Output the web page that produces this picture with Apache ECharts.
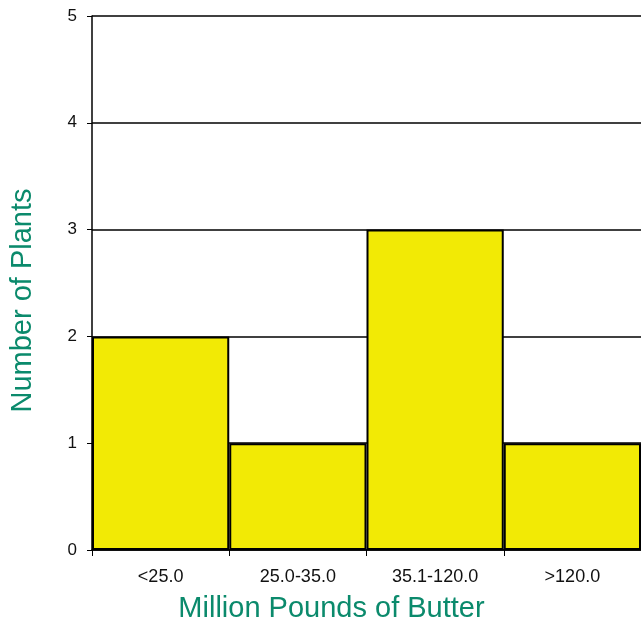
<!DOCTYPE html>
<html><head><meta charset="utf-8">
<script src="https://cdn.jsdelivr.net/npm/echarts@6/dist/echarts.min.js"></script>
<style>html,body{margin:0;padding:0;background:#fff}#c{width:641px;height:628px}</style>
</head><body><div id="c"></div>
<script>
const categories = ['<25.0', '25.0-35.0', '35.1-120.0', '>120.0'];
const plants = [2, 1, 3, 1];
const chart = echarts.init(document.getElementById('c'), null, {renderer: 'canvas'});
chart.setOption({
  animation: false,
  grid: {left: 92, right: 0, top: 16, bottom: 77},
  xAxis: {
    type: 'category', data: categories,
    name: 'Million Pounds of Butter', nameLocation: 'middle', nameGap: 44,
    nameTextStyle: {color: '#0b8a6c', fontSize: 29, fontFamily: 'Liberation Sans', padding: [0, 70, 0, 0]},
    axisLine: {lineStyle: {color: '#000', width: 1.5}},
    axisTick: {show: true, length: 6, lineStyle: {color: '#000'}},
    axisLabel: {color: '#111', fontSize: 18, fontFamily: 'Liberation Sans', margin: 18}
  },
  yAxis: {
    type: 'value', min: 0, max: 5, interval: 1,
    name: 'Number of Plants', nameLocation: 'middle', nameGap: 55,
    nameTextStyle: {color: '#0b8a6c', fontSize: 29, fontFamily: 'Liberation Sans', padding: [0, 35, 0, 0]},
    axisLine: {show: true, lineStyle: {color: '#000', width: 1.5}},
    axisTick: {show: true, length: 5, lineStyle: {color: '#000'}},
    axisLabel: {color: '#111', fontSize: 17, fontFamily: 'Liberation Sans', margin: 15},
    splitLine: {show: true, lineStyle: {color: '#000', width: 1.5}}
  },
  series: [{
    type: 'bar', data: plants, barCategoryGap: '0%',
    itemStyle: {color: '#f2ea05', borderColor: '#000', borderWidth: 2}
  }]
});
</script></body></html>
